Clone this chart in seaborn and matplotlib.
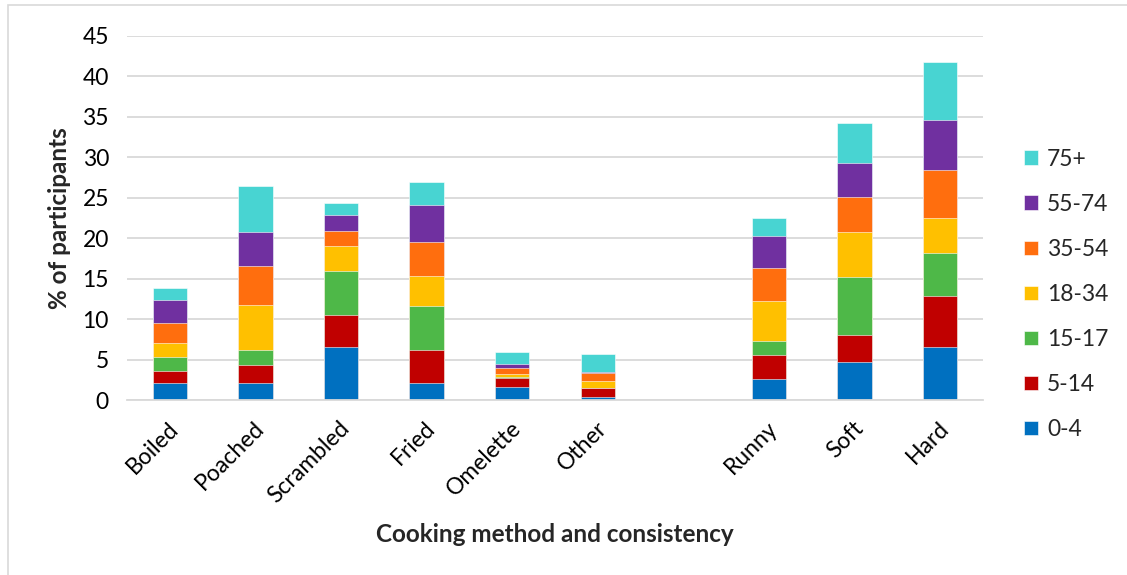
import matplotlib
matplotlib.use("Agg")
import matplotlib.pyplot as plt
from matplotlib.patches import Rectangle
import matplotlib.transforms as mtransforms
import numpy as np
import pandas as pd
import seaborn as sns

# Categories (a blank slot separates cooking method from consistency)
categories = ["Boiled", "Poached", "Scrambled", "Fried", "Omelette", "Other", " ",
              "Runny", "Soft", "Hard"]
age_groups = ["0-4", "5-14", "15-17", "18-34", "35-54", "55-74", "75+"]

# % of participants per age group (stacked segments, bottom to top)
age_0_4   = [2.10, 2.10, 6.52, 2.10, 1.65, 0.37, np.nan, 2.56, 4.74, 6.52]
age_5_14  = [1.53, 2.27, 4.04, 4.13, 1.08, 1.12, np.nan, 2.97, 3.34, 6.31]
age_15_17 = [1.73, 1.78, 5.44, 5.40, 0.08, 0.00, np.nan, 1.81, 7.14, 5.40]
age_18_34 = [1.65, 5.65, 3.06, 3.72, 0.45, 0.90, np.nan, 4.91, 5.53, 4.21]
age_35_54 = [2.52, 4.78, 1.86, 4.24, 0.70, 0.95, np.nan, 4.13, 4.35, 5.96]
age_55_74 = [2.89, 4.13, 2.01, 4.54, 0.50, 0.13, np.nan, 3.92, 4.15, 6.22]
age_75p   = [1.40, 5.78, 1.45, 2.85, 1.48, 2.18, np.nan, 2.14, 5.03, 7.17]

colors = ["#0070C0", "#C00000", "#4EB848", "#FFC000", "#FF6E0E", "#7030A0", "#48D4D2"]

segments = pd.DataFrame(
    np.array([age_0_4, age_5_14, age_15_17, age_18_34, age_35_54, age_55_74, age_75p]).T,
    index=categories, columns=age_groups,
)
cumulative = segments.cumsum(axis=1)

sns.set_theme(style="white")
plt.rcParams["font.family"] = ["Lato", "DejaVu Sans"]

fig = plt.figure(figsize=(11.27, 5.75), dpi=100)
ax = fig.add_axes([0.1127, 0.3043, 0.7595, 0.6331])

# Draw cumulative totals from the top group down so each layer shows as a stacked segment
for grp, col in zip(reversed(age_groups), reversed(colors)):
    df = pd.DataFrame({"category": categories, "value": cumulative[grp].values})
    sns.barplot(data=df, x="category", y="value", order=categories, color=col,
                width=0.4, errorbar=None, label=grp, ax=ax, saturation=1,
                edgecolor="white", linewidth=0.4)

ax.set_ylim(0, 45)
ax.set_xlim(-0.5, len(categories) - 0.5)
ax.set_yticks(np.arange(0, 46, 5))
ax.yaxis.grid(True, color="#D9D9D9", linewidth=1.3)
ax.set_axisbelow(True)
for side in ["left", "right", "top"]:
    ax.spines[side].set_visible(False)
ax.spines["bottom"].set_color("#D9D9D9")
ax.spines["bottom"].set_linewidth(1.3)
ax.tick_params(axis="both", length=0, labelsize=16.5, colors="black")
ax.tick_params(axis="y", pad=13)
ax.tick_params(axis="x", pad=12)
shift = mtransforms.ScaledTranslation(-0.02, -0.01, fig.dpi_scale_trans)
for lbl in ax.get_xticklabels():
    lbl.set_rotation(45)
    lbl.set_ha("right")
    lbl.set_rotation_mode("anchor")
    lbl.set_transform(lbl.get_transform() + shift)

ax.set_ylabel("% of participants", fontsize=17.5, fontweight="bold")
ax.set_xlabel("Cooking method and consistency", fontsize=17.5, fontweight="bold")
ax.yaxis.set_label_coords(-0.066, 0.5)
ax.xaxis.set_label_coords(0.5, -0.338)

ax.legend(loc="center left", bbox_to_anchor=(1.024, 0.29), frameon=False, fontsize=16.5,
          handlelength=0.6, handleheight=0.6, handletextpad=0.4, labelspacing=1.05)

# Light outer frame of the chart area
fig.add_artist(Rectangle((8 / 1127, -0.1), 1.2, 1.1 - 5 / 575, transform=fig.transFigure,
                         fill=False, edgecolor="#D9D9D9", linewidth=1.2))

fig.savefig("out.png", dpi=100)
